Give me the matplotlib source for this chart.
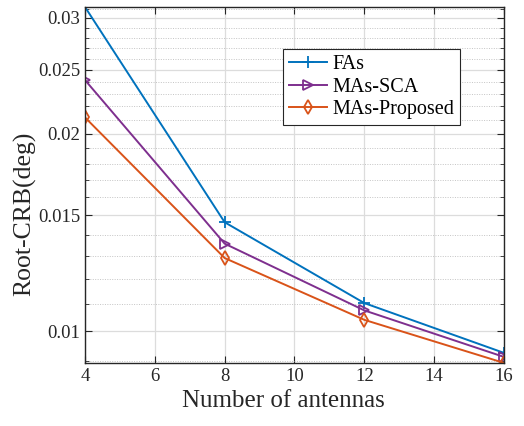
import numpy as np
import matplotlib
matplotlib.use('Agg')
import matplotlib.pyplot as plt
from matplotlib.ticker import FixedLocator, FixedFormatter, NullFormatter

antennas = [4, 8, 12, 16]
fas = [0.0312, 0.01465, 0.01103, 0.00926]
mas_sca = [0.02414, 0.01359, 0.01075, 0.00913]
mas_proposed = [0.02117, 0.01292, 0.01040, 0.00894]

y_major = [0.01, 0.015, 0.02, 0.025, 0.03]
y_labels = ['0.01', '0.015', '0.02', '0.025', '0.03']
x_major = [4, 6, 8, 10, 12, 14, 16]

plt.rcParams['font.family'] = ['Liberation Serif', 'DejaVu Serif']

fig = plt.figure(figsize=(5.24, 4.26), dpi=100)
ax = fig.add_axes([0.162, 0.148, 0.800, 0.836])

ax.plot(antennas, fas, color='#0072BD', marker='+', ms=8, mew=1.3, lw=1.4, label='FAs')
ax.plot(antennas, mas_sca, color='#7E2F8E', marker='>', ms=7.5, mfc='none', mew=1.3, lw=1.4, label='MAs-SCA')
ax.plot(antennas, mas_proposed, color='#D95319', marker='d', ms=7.5, mfc='none', mew=1.3, lw=1.4, label='MAs-Proposed')

ax.set_yscale('log')
ax.set_xlim(4, 16)
ax.set_ylim(min(mas_proposed), max(fas))

ax.yaxis.set_major_locator(FixedLocator(y_major))
ax.yaxis.set_major_formatter(FixedFormatter(y_labels))
ax.yaxis.set_minor_locator(FixedLocator(np.arange(9, 32) / 1000.0))
ax.yaxis.set_minor_formatter(NullFormatter())
ax.xaxis.set_major_locator(FixedLocator(x_major))

ax.grid(True, which='major', color='#dcdcdc', lw=0.9, ls='-')
ax.grid(True, which='minor', axis='y', color='#c4c4c4', lw=0.7, ls=(0, (1, 1.5)))
ax.set_axisbelow(True)

ax.tick_params(which='both', direction='in', top=True, right=True, colors='#262626', labelsize=13.5)
ax.tick_params(which='major', length=5, width=0.8)
ax.tick_params(which='minor', length=3, width=0.6)
for s in ax.spines.values():
    s.set_color('#262626')
    s.set_linewidth(1.0)

ax.set_xlabel('Number of antennas', fontsize=18, color='#262626')
ax.set_ylabel('Root-CRB(deg)', fontsize=18.5, color='#262626')
ax.xaxis.set_label_coords(0.474, -0.075)
ax.yaxis.set_label_coords(-0.115, 0.42)

leg = ax.legend(loc='upper left', bbox_to_anchor=(0.4726, 0.882), borderaxespad=0,
                fontsize=14.5, fancybox=False, framealpha=1, edgecolor='#262626',
                handlelength=1.9, handletextpad=0.25, borderpad=0.3, labelspacing=0.18)
leg.get_frame().set_linewidth(0.8)

fig.savefig('out.png', dpi=100)
